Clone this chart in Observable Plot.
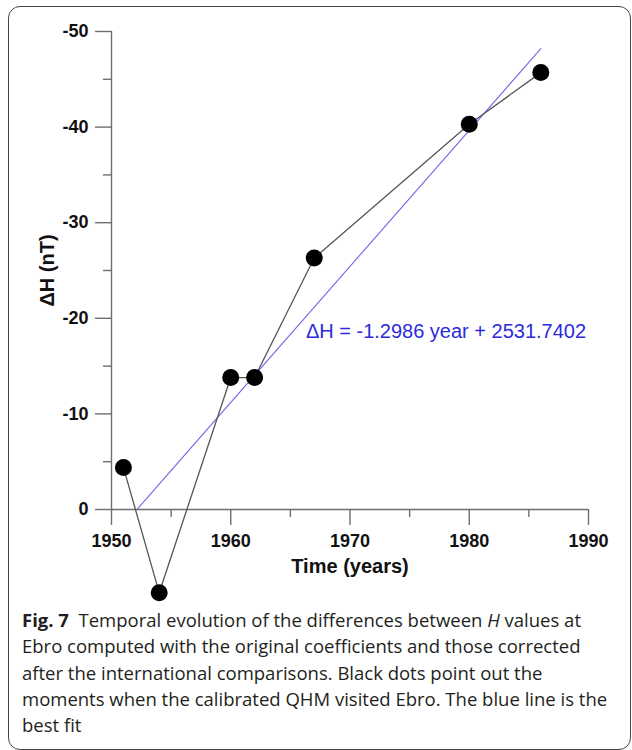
<!DOCTYPE html>
<html><head><meta charset="utf-8">
<script src="https://cdn.jsdelivr.net/npm/d3@7"></script>
<script src="https://cdn.jsdelivr.net/npm/@observablehq/plot@0.6"></script>
<style>
body{margin:0;background:#fff;}
#wrap{position:relative;width:632px;height:750px;overflow:hidden;background:#fff;}
#frame{position:absolute;left:8px;top:6px;width:623px;height:744px;border:1.5px solid #444;border-radius:12px;box-sizing:border-box;}
#chart{position:absolute;left:0;top:0;}
#caption{position:absolute;left:22px;top:607px;width:600px;font-family:"Open Sans",sans-serif;font-size:18.5px;line-height:26.3px;color:#231f20;letter-spacing:0px;white-space:nowrap;}
#caption b{font-weight:700;}
</style></head>
<body><div id="wrap"><div id="frame"></div><div id="chart"></div>
<div id="caption"><b>Fig. 7</b>&nbsp; Temporal evolution of the differences between <i>H</i> values at<br>Ebro computed with the original coefficients and those corrected<br>after the international comparisons. Black dots point out the<br>moments when the calibrated QHM visited Ebro. The blue line is the<br>best fit</div>
</div>
<script>
const years = [1951, 1954, 1960, 1962, 1967, 1980, 1986];
const deltaH = [-4.4, 8.7, -13.8, -13.8, -26.3, -40.3, -45.7];
const fitYears = [1952.2, 1986.0];
const fitDeltaH = [-0.1, -48.2];
const fitText = ["ΔH = -1.2986 year + 2531.7402"];
const fitTextYear = [1966.3];
const fitTextDeltaH = [-18.6];
const yTicksMajor = [-50, -40, -30, -20, -10, 0];
const yTicksMinor = [-45, -35, -25, -15, -5];
const xTicksMajor = [1950, 1960, 1970, 1980, 1990];
const xTicksMinor = [1955, 1965, 1975, 1985];
const xTitle = ["Time (years)"];
const yTitle = ["ΔH (nT)"];

const obs = years.map((y, i) => ({year: y, dH: deltaH[i]}));
const fit = fitYears.map((y, i) => ({year: y, dH: fitDeltaH[i]}));
const fitLab = fitText.map((t, i) => ({year: fitTextYear[i], dH: fitTextDeltaH[i], text: t}));
const axisColor = "#6e6e6e";

const chart = Plot.plot({
  width: 632, height: 600,
  marginLeft: 111, marginRight: 44, marginTop: 31, marginBottom: 91,
  x: {domain: [1950, 1990]},
  y: {domain: [0, -50]},
  style: {fontFamily: "'Liberation Sans', Arial, sans-serif", background: "transparent", color: "#111", overflow: "visible"},
  marks: [
    Plot.axisY(yTicksMinor, {tickSize: 8, tickFormat: () => "", stroke: axisColor, strokeWidth: 1.4, label: null}),
    Plot.axisY(yTicksMajor, {tickSize: 16, tickPadding: 7, tickFormat: d => String(d), fontSize: 18, fontWeight: "bold", stroke: axisColor, strokeWidth: 1.4, label: null}),
    Plot.axisX(xTicksMinor, {tickSize: 8, tickFormat: () => "", stroke: axisColor, strokeWidth: 1.4, label: null}),
    Plot.axisX(xTicksMajor, {tickSize: 16, tickPadding: 9, tickFormat: d => String(d), fontSize: 18, fontWeight: "bold", stroke: axisColor, strokeWidth: 1.4, label: null}),
    Plot.ruleX([1950], {y1: 0, y2: -50, stroke: axisColor, strokeWidth: 1.4}),
    Plot.ruleY([0], {x1: 1950, x2: 1990, stroke: axisColor, strokeWidth: 1.4}),
    Plot.text(yTitle, {frameAnchor: "left", text: d => d, rotate: -90, dx: -64, textAnchor: "middle", lineAnchor: "middle", fontSize: 20, fontWeight: "bold", fill: "#111"}),
    Plot.text(xTitle, {frameAnchor: "bottom", text: d => d, dy: 57, textAnchor: "middle", lineAnchor: "middle", fontSize: 20, fontWeight: "bold", fill: "#111"}),
    Plot.line(fit, {x: "year", y: "dH", stroke: "#6a6ae8", strokeWidth: 1.1}),
    Plot.line(obs, {x: "year", y: "dH", stroke: "#555", strokeWidth: 1.3}),
    Plot.dot(obs, {x: "year", y: "dH", r: 8.5, fill: "#000"}),
    Plot.text(fitLab, {x: "year", y: "dH", text: "text", textAnchor: "start", fontSize: 20, fill: "#2b2bdc"})
  ]
});
document.getElementById("chart").appendChild(chart);
</script>
</body></html>
